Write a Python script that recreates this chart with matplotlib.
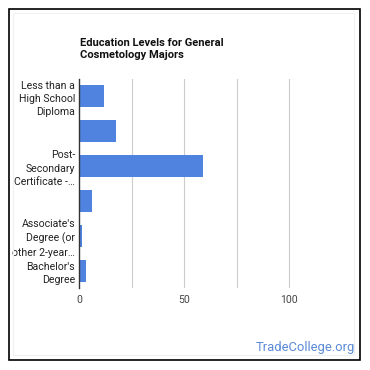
import matplotlib
matplotlib.use("Agg")
import matplotlib.pyplot as plt
from matplotlib.patches import Rectangle

plt.rcParams['font.family'] = ['Roboto', 'DejaVu Sans']

categories = [
    "Less than a High School Diploma",
    "High School Diploma",
    "Post-Secondary Certificate - Awarded for training completed after high school",
    "Some College Courses",
    "Associate's Degree (or other 2-year degree)",
    "Bachelor's Degree",
]
tick_labels = [
    "Less than a\nHigh School\nDiploma",
    "",
    "Post-\nSecondary\nCertificate -…",
    "",
    "Associate's\nDegree (or\nother 2-year…",
    "Bachelor's\nDegree",
]
values = [11.6, 17.6, 58.9, 6.2, 1.3, 3.3]
x_ticks = [0, 50, 100]
grid_ticks = [25, 50, 75, 100]

W = H = 370
fig = plt.figure(figsize=(3.7, 3.7), dpi=100)
fig.patch.set_facecolor('white')

# outer borders
fig.add_artist(Rectangle((8.5 / W, 1 - 359.5 / H), 351 / W, 351 / H, transform=fig.transFigure,
                         fill=False, edgecolor='black', linewidth=1.2))
fig.add_artist(Rectangle((13 / W, 1 - 355 / H), 341 / W, 342 / H, transform=fig.transFigure,
                         fill=False, edgecolor='#f0f0f0', linewidth=0.8))

left, right, top, bottom = 79.3, 341.8, 79, 288
ax = fig.add_axes([left / W, 1 - bottom / H, (right - left) / W, (bottom - top) / H])
y = list(range(len(categories)))
ax.barh(y, values, height=0.63, color='#5083e0', zorder=3)
ax.set_ylim(len(categories) - 0.5, -0.5)
ax.set_xlim(0, 125)
ax.set_yticks(y)
ax.set_yticklabels(tick_labels, fontsize=7.6, color='#222222', linespacing=1.42)
ax.set_xticks(x_ticks)
ax.set_xticklabels([str(t) for t in x_ticks], fontsize=7.6, color='#444444')
for g in grid_ticks:
    ax.axvline(g, color='#cccccc', linewidth=0.8, zorder=1)
ax.tick_params(axis='both', length=0)
ax.tick_params(axis='y', pad=3)
ax.tick_params(axis='x', pad=5)
for s in ['top', 'right', 'bottom']:
    ax.spines[s].set_visible(False)
ax.spines['left'].set_color('#333333')
ax.spines['left'].set_linewidth(1.0)
ax.spines['left'].set_zorder(4)

fig.text(80 / W, 1 - 49 / H, "Education Levels for General\nCosmetology Majors",
         fontsize=8.0, fontweight='bold', color='#111111', ha='left', va='center', linespacing=1.35)
fig.text(355 / W, 1 - 348 / H, "TradeCollege.org", fontsize=9.4, color='#5b8ad6',
         ha='right', va='center')

fig.savefig('out.png', dpi=100, facecolor='white')
